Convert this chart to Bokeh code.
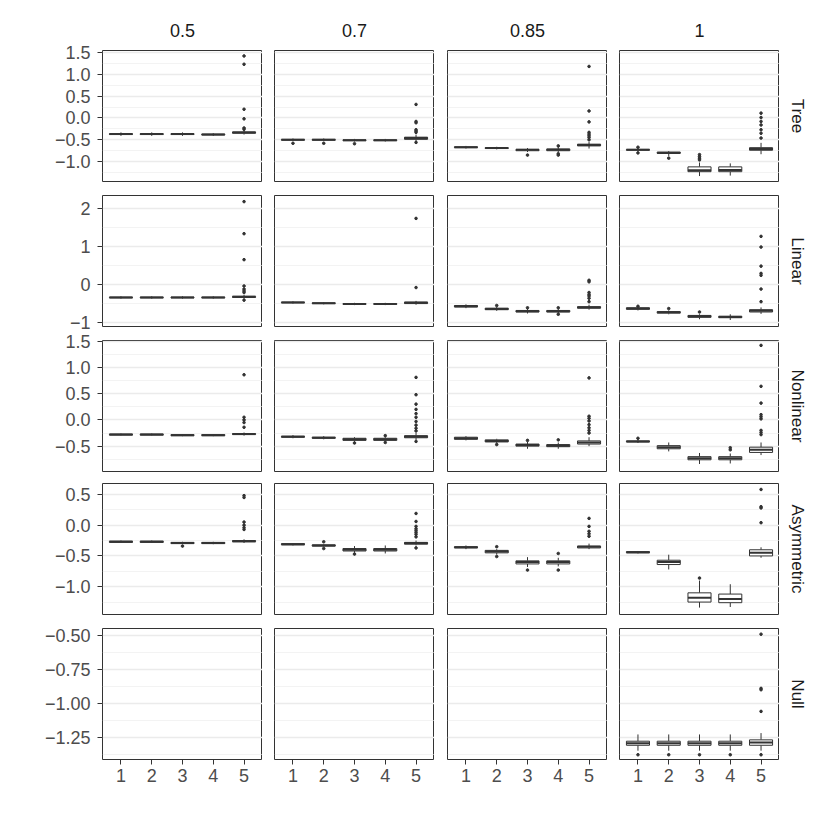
from math import pi
from bokeh.plotting import figure
from bokeh.models import Range1d, FixedTicker, LinearAxis, Grid, CustomJSTickFormatter, Spacer
from bokeh.layouts import column, row
from bokeh.core.properties import value
from bokeh.embed import file_html
from bokeh.resources import INLINE

# ---------------- data ----------------
ROWS = ["Tree", "Linear", "Nonlinear", "Asymmetric", "Null"]
COLS = ["0.5", "0.7", "0.85", "1"]
GROUPS = [1, 2, 3, 4, 5]

# each stat array: one list per column (0.5, 0.7, 0.85, 1), values for groups 1..5
TREE_MED = [[-0.37, -0.37, -0.37, -0.38, -0.335], [-0.50, -0.50, -0.51, -0.51, -0.46],
            [-0.67, -0.69, -0.73, -0.73, -0.62], [-0.73, -0.80, -1.20, -1.19, -0.71]]
TREE_Q1 = [[-0.38, -0.38, -0.38, -0.39, -0.35], [-0.51, -0.51, -0.52, -0.52, -0.49],
           [-0.68, -0.70, -0.75, -0.75, -0.64], [-0.74, -0.81, -1.23, -1.23, -0.74]]
TREE_Q3 = [[-0.36, -0.36, -0.36, -0.37, -0.32], [-0.49, -0.49, -0.50, -0.50, -0.44],
           [-0.66, -0.68, -0.72, -0.71, -0.60], [-0.72, -0.78, -1.12, -1.12, -0.68]]
TREE_LO = [[-0.41, -0.41, -0.41, -0.41, -0.38], [-0.53, -0.53, -0.54, -0.54, -0.53],
           [-0.70, -0.72, -0.78, -0.79, -0.70], [-0.76, -0.87, -1.33, -1.32, -0.83]]
TREE_HI = [[-0.33, -0.33, -0.33, -0.35, -0.29], [-0.47, -0.47, -0.48, -0.48, -0.38],
           [-0.64, -0.66, -0.69, -0.66, -0.55], [-0.70, -0.76, -1.02, -1.04, -0.57]]
TREE_OUT = [
    [[], [], [], [], [1.42, 1.23, 0.20, -0.02, -0.23, -0.26]],
    [[-0.58], [-0.58], [-0.59], [], [0.31, -0.08, -0.11, -0.27, -0.30, -0.33, -0.56]],
    [[], [], [-0.85], [-0.64, -0.82, -0.85], [1.18, 0.16, -0.09, -0.33, -0.37, -0.41, -0.45, -0.50]],
    [[-0.67, -0.80], [-0.92], [-0.84, -0.88, -0.92, -0.96], [], [0.11, 0.01, -0.08, -0.16, -0.27, -0.35, -0.46]],
]

LIN_MED = [[-0.34, -0.34, -0.34, -0.34, -0.32], [-0.47, -0.49, -0.51, -0.51, -0.48],
           [-0.57, -0.64, -0.70, -0.70, -0.60], [-0.63, -0.73, -0.83, -0.85, -0.69]]
LIN_Q1 = [[-0.35, -0.35, -0.35, -0.35, -0.34], [-0.48, -0.50, -0.52, -0.52, -0.50],
          [-0.59, -0.66, -0.72, -0.72, -0.62], [-0.65, -0.75, -0.86, -0.87, -0.72]]
LIN_Q3 = [[-0.33, -0.33, -0.33, -0.33, -0.31], [-0.46, -0.48, -0.50, -0.50, -0.46],
          [-0.55, -0.62, -0.68, -0.68, -0.58], [-0.61, -0.71, -0.81, -0.83, -0.66]]
LIN_LO = [[-0.37, -0.37, -0.37, -0.37, -0.37], [-0.50, -0.52, -0.54, -0.54, -0.53],
          [-0.62, -0.69, -0.76, -0.76, -0.66], [-0.68, -0.78, -0.91, -0.93, -0.77]]
LIN_HI = [[-0.31, -0.31, -0.31, -0.31, -0.27], [-0.44, -0.46, -0.48, -0.48, -0.43],
          [-0.52, -0.59, -0.64, -0.64, -0.53], [-0.59, -0.68, -0.78, -0.78, -0.60]]
LIN_OUT = [
    [[], [], [], [], [2.17, 1.33, 0.65, -0.04, -0.12, -0.17, -0.21, -0.41]],
    [[], [], [], [], [1.73, -0.08]],
    [[], [-0.55], [-0.61], [-0.61, -0.78], [0.11, 0.07, -0.21, -0.26, -0.30, -0.36, -0.45]],
    [[-0.57], [-0.63], [-0.72], [], [1.26, 0.98, 0.48, 0.29, 0.24, -0.12, -0.45]],
]

NL_MED = [[-0.28, -0.28, -0.29, -0.29, -0.27], [-0.32, -0.34, -0.37, -0.37, -0.32],
          [-0.35, -0.40, -0.48, -0.49, -0.43], [-0.41, -0.52, -0.73, -0.73, -0.57]]
NL_Q1 = [[-0.29, -0.29, -0.30, -0.30, -0.28], [-0.33, -0.35, -0.39, -0.39, -0.34],
         [-0.37, -0.42, -0.50, -0.51, -0.46], [-0.42, -0.55, -0.76, -0.76, -0.62]]
NL_Q3 = [[-0.27, -0.27, -0.28, -0.28, -0.26], [-0.31, -0.33, -0.35, -0.35, -0.30],
         [-0.33, -0.38, -0.46, -0.47, -0.40], [-0.40, -0.49, -0.70, -0.70, -0.52]]
NL_LO = [[-0.30, -0.30, -0.31, -0.31, -0.30], [-0.35, -0.37, -0.42, -0.42, -0.38],
         [-0.39, -0.45, -0.55, -0.55, -0.50], [-0.44, -0.60, -0.84, -0.83, -0.67]]
NL_HI = [[-0.26, -0.26, -0.27, -0.27, -0.24], [-0.29, -0.31, -0.33, -0.33, -0.25],
         [-0.31, -0.36, -0.42, -0.43, -0.33], [-0.38, -0.43, -0.63, -0.64, -0.43]]
NL_OUT = [
    [[], [], [], [], [0.86, 0.05, 0.00, -0.05, -0.14]],
    [[], [], [-0.44], [-0.30, -0.43], [0.81, 0.48, 0.30, 0.20, 0.12, 0.05, -0.03, -0.10, -0.16, -0.21, -0.41]],
    [[], [-0.47], [-0.39], [-0.38], [0.80, 0.07, 0.03, -0.02, -0.09, -0.15, -0.20, -0.25]],
    [[-0.35], [], [], [-0.57, -0.53], [1.42, 0.64, 0.32, 0.10, 0.06, 0.02, -0.20, -0.24, -0.28]],
]

ASY_MED = [[-0.27, -0.27, -0.29, -0.29, -0.26], [-0.31, -0.33, -0.40, -0.40, -0.29],
           [-0.36, -0.43, -0.60, -0.60, -0.35], [-0.44, -0.60, -1.18, -1.20, -0.45]]
ASY_Q1 = [[-0.28, -0.28, -0.30, -0.30, -0.27], [-0.32, -0.34, -0.42, -0.42, -0.31],
          [-0.37, -0.45, -0.63, -0.63, -0.37], [-0.45, -0.64, -1.25, -1.26, -0.50]]
ASY_Q3 = [[-0.26, -0.26, -0.28, -0.28, -0.25], [-0.30, -0.32, -0.38, -0.38, -0.28],
          [-0.35, -0.41, -0.58, -0.58, -0.34], [-0.43, -0.57, -1.10, -1.12, -0.40]]
ASY_LO = [[-0.29, -0.29, -0.31, -0.31, -0.29], [-0.33, -0.35, -0.45, -0.46, -0.33],
          [-0.39, -0.48, -0.68, -0.67, -0.39], [-0.46, -0.72, -1.34, -1.33, -0.53]]
ASY_HI = [[-0.25, -0.25, -0.27, -0.27, -0.23], [-0.29, -0.31, -0.34, -0.33, -0.25],
          [-0.33, -0.39, -0.52, -0.53, -0.30], [-0.42, -0.48, -0.90, -0.96, -0.36]]
ASY_OUT = [
    [[], [], [-0.34], [], [0.48, 0.45, 0.05, 0.00, -0.04, -0.07]],
    [[], [-0.27, -0.38], [-0.47], [], [0.19, 0.06, -0.02, -0.06, -0.09, -0.12, -0.15, -0.19, -0.37]],
    [[], [-0.35, -0.51], [-0.73], [-0.46, -0.73], [0.11, -0.02, -0.10, -0.14, -0.18]],
    [[], [], [-0.86], [], [0.58, 0.30, 0.28, 0.04]],
]

NULL_MED = [None, None, None, [-1.295, -1.295, -1.295, -1.295, -1.29]]
NULL_Q1 = [None, None, None, [-1.31, -1.31, -1.31, -1.31, -1.31]]
NULL_Q3 = [None, None, None, [-1.28, -1.28, -1.28, -1.28, -1.27]]
NULL_LO = [None, None, None, [-1.35, -1.35, -1.35, -1.35, -1.35]]
NULL_HI = [None, None, None, [-1.23, -1.23, -1.23, -1.23, -1.22]]
NULL_OUT = [None, None, None, [[-1.38], [-1.38], [-1.38], [-1.38], [-0.49, -0.89, -0.90, -1.06, -1.38]]]

# y-axis breaks per row
Y_MAJOR = [[-1.0, -0.5, 0.0, 0.5, 1.0, 1.5], [-1, 0, 1, 2], [-0.5, 0.0, 0.5, 1.0, 1.5],
           [-1.0, -0.5, 0.0, 0.5], [-1.25, -1.0, -0.75, -0.5]]
Y_MINOR = [[-1.25, -0.75, -0.25, 0.25, 0.75, 1.25], [-0.5, 0.5, 1.5], [-0.75, -0.25, 0.25, 0.75, 1.25],
           [-1.25, -0.75, -0.25, 0.25], [-1.375, -1.125, -0.875, -0.625]]
Y_DEC = [1, 0, 1, 1, 2]

# ---------------- layout / style ----------------
Y_RANGES = [(-1.455, 1.545), (-1.10, 2.33), (-0.983, 1.513), (-1.452, 0.677), (-1.415, -0.448)]
FONT = "Liberation Sans"
FW, FH = 160, 131
LEFTS = [102, 12, 13, 12]
TOPS = [7, 7, 7, 6, 7]
BOTTOMS = [7, 7, 6, 7, 50]
HEADER_H = 43
STRIP_W = 42
LINE = "#333333"

STATS = [
    (TREE_MED, TREE_Q1, TREE_Q3, TREE_LO, TREE_HI, TREE_OUT),
    (LIN_MED, LIN_Q1, LIN_Q3, LIN_LO, LIN_HI, LIN_OUT),
    (NL_MED, NL_Q1, NL_Q3, NL_LO, NL_HI, NL_OUT),
    (ASY_MED, ASY_Q1, ASY_Q3, ASY_LO, ASY_HI, ASY_OUT),
    (NULL_MED, NULL_Q1, NULL_Q3, NULL_LO, NULL_HI, NULL_OUT),
]
BOX_W = 0.75


def style_axis(ax):
    ax.axis_line_color = None
    ax.major_tick_line_color = LINE
    ax.major_tick_line_width = 1
    ax.major_tick_out = 5
    ax.major_tick_in = 0
    ax.minor_tick_line_color = None
    ax.major_label_text_color = "#4d4d4d"
    ax.major_label_text_font = FONT
    ax.major_label_text_font_size = "18px"


def panel(r, c):
    left = LEFTS[c]
    top = TOPS[r]
    bottom = BOTTOMS[r]
    p = figure(width=left + FW, height=top + FH + bottom,
               x_range=Range1d(0.4, 5.6), y_range=Range1d(*Y_RANGES[r]),
               x_axis_type=None, y_axis_type=None,
               toolbar_location=None, output_backend="svg",
               min_border=0, min_border_left=left, min_border_right=0,
               min_border_top=top, min_border_bottom=bottom)
    p.outline_line_color = LINE
    p.outline_line_width = 1
    p.background_fill_color = "white"
    p.border_fill_color = "white"

    yt = FixedTicker(ticks=Y_MAJOR[r], minor_ticks=Y_MINOR[r])
    p.add_layout(Grid(dimension=1, ticker=yt,
                      grid_line_color="#ebebeb", grid_line_width=1.3,
                      minor_grid_line_color="#ebebeb", minor_grid_line_width=0.6), "center")
    if c == 0:
        d = Y_DEC[r]
        fmt = CustomJSTickFormatter(code=(
            "const s = Math.abs(tick).toFixed(%d);"
            "return (tick < -1e-9 ? '\\u2212' : '') + s;" % d))
        ya = LinearAxis(ticker=yt, formatter=fmt)
        style_axis(ya)
        ya.major_label_standoff = 7
        p.add_layout(ya, "left")
    if r == 4:
        xa = LinearAxis(ticker=FixedTicker(ticks=GROUPS, minor_ticks=[]))
        style_axis(xa)
        xa.major_label_standoff = 4
        p.add_layout(xa, "below")

    med, q1, q3, lo, hi, out = STATS[r]
    if med[c] is not None:
        p.segment(x0=GROUPS, y0=q3[c], x1=GROUPS, y1=hi[c], line_color=LINE, line_width=1)
        p.segment(x0=GROUPS, y0=lo[c], x1=GROUPS, y1=q1[c], line_color=LINE, line_width=1)
        p.vbar(x=GROUPS, width=BOX_W, bottom=q1[c], top=q3[c],
               fill_color="white", line_color=LINE, line_width=1)
        p.segment(x0=[g - BOX_W / 2 for g in GROUPS], y0=med[c],
                  x1=[g + BOX_W / 2 for g in GROUPS], y1=med[c],
                  line_color=LINE, line_width=2)
        ox, oy = [], []
        for g, vals in zip(GROUPS, out[c]):
            ox += [g] * len(vals)
            oy += vals
        if ox:
            p.scatter(x=ox, y=oy, size=2.6, color=LINE)
    return p


def header(c):
    left = LEFTS[c]
    p = figure(width=left + FW, height=HEADER_H, x_range=Range1d(0, 1), y_range=Range1d(0, 1),
               x_axis_type=None, y_axis_type=None, toolbar_location=None,
               output_backend="svg", min_border=0, min_border_left=left, min_border_right=0)
    p.outline_line_color = None
    p.text(x=[0.5], y=[1 - 30 / HEADER_H], text=[COLS[c]], text_align="center", text_baseline="middle",
           text_font=value(FONT), text_font_size="18px", text_color="#1a1a1a")
    return p


def strip(r):
    top = TOPS[r]
    bottom = BOTTOMS[r]
    p = figure(width=STRIP_W, height=top + FH + bottom, x_range=Range1d(0, 1), y_range=Range1d(0, 1),
               x_axis_type=None, y_axis_type=None, toolbar_location=None,
               output_backend="svg", min_border=0, min_border_top=top, min_border_bottom=bottom)
    p.outline_line_color = None
    p.text(x=[18 / STRIP_W], y=[0.5], text=[ROWS[r]], angle=-pi / 2,
           text_align="center", text_baseline="middle",
           text_font=value(FONT), text_font_size="17px", text_color="#1a1a1a")
    return p


hdr = row([header(c) for c in range(4)] + [Spacer(width=STRIP_W, height=HEADER_H)])
rows_l = [row([panel(r, c) for c in range(4)] + [strip(r)]) for r in range(5)]
layout = column([hdr] + rows_l)

open("out.html", "w", encoding="utf-8").write(file_html(layout, INLINE))
